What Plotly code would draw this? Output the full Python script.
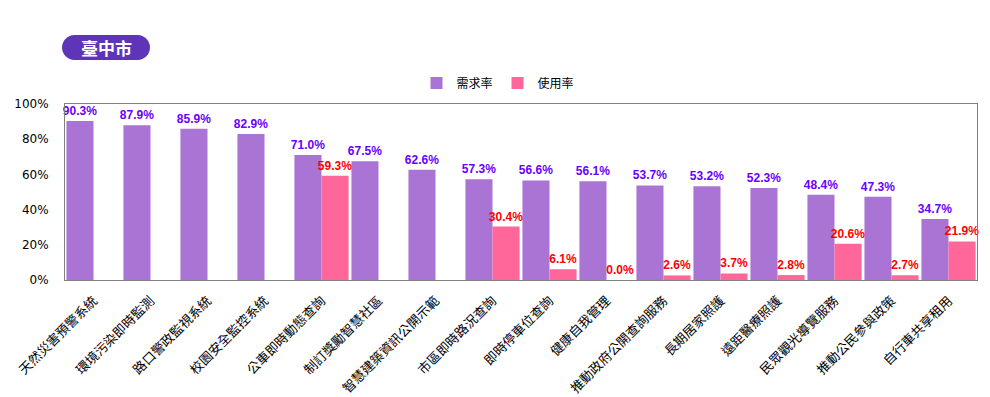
import plotly.graph_objects as go

categories = ["天然災害預警系統", "環境污染即時監測", "路口警政監視系統", "校園安全監控系統",
              "公車即時動態查詢", "制訂獎勵智慧社區", "智慧建築資訊公開示範", "市區即時路況查詢",
              "即時停車位查詢", "健康自我管理", "推動政府公開查詢服務", "長期居家照護",
              "遠距醫療照護", "民眾觀光導覽服務", "推動公民參與政策", "自行車共享租用"]
demand = [90.3, 87.9, 85.9, 82.9, 71.0, 67.5, 62.6, 57.3, 56.6, 56.1, 53.7, 53.2, 52.3, 48.4, 47.3, 34.7]
usage = [None, None, None, None, 59.3, None, None, 30.4, 6.1, 0.0, 2.6, 3.7, 2.8, 20.6, 2.7, 21.9]
y_ticks = [0, 20, 40, 60, 80, 100]
title_text = "臺中市"

OFF = 8  # default page body margin
W, H = 990 - OFF, 397 - OFF
ML, MR, MT, MB = 65 - OFF, 13, 104 - OFF, 117
PW, PH = W - ML - MR, H - MT - MB

def px(x):  # x in page pixels -> paper
    return (x - OFF - ML) / PW

def py(y):  # y in page pixels -> paper
    return (H - MB - (y - OFF)) / PH

font_cjk = "Noto Sans CJK TC, Liberation Sans, sans-serif"

fig = go.Figure()
fig.add_trace(go.Bar(
    x=categories, y=demand, name="需求率",
    marker=dict(color="#A974D4", line=dict(width=0)),
    texttemplate="%{y:.1f}%", textposition="outside", cliponaxis=False,
    constraintext="none",
    textfont=dict(color="#6A00FF", size=12, family="Liberation Sans, Arial", weight="bold"),
))
fig.add_trace(go.Bar(
    x=categories, y=usage, name="使用率",
    marker=dict(color="#FF6699", line=dict(width=0)),
    texttemplate="%{y:.1f}%", textposition="outside", cliponaxis=False,
    constraintext="none",
    textfont=dict(color="#FF0000", size=12, family="Liberation Sans, Arial", weight="bold"),
))

# rounded badge
x0, x1, y0, y1 = 62, 150, 35, 60
r = (y1 - y0) / 2
k = 0.5523 * r
pts = (f"M {px(x0 + r)},{py(y0)} L {px(x1 - r)},{py(y0)} "
       f"C {px(x1 - r + k)},{py(y0)} {px(x1)},{py(y0 + r - k)} {px(x1)},{py(y0 + r)} "
       f"C {px(x1)},{py(y0 + r + k)} {px(x1 - r + k)},{py(y1)} {px(x1 - r)},{py(y1)} "
       f"L {px(x0 + r)},{py(y1)} "
       f"C {px(x0 + r - k)},{py(y1)} {px(x0)},{py(y0 + r + k)} {px(x0)},{py(y0 + r)} "
       f"C {px(x0)},{py(y0 + r - k)} {px(x0 + r - k)},{py(y0)} {px(x0 + r)},{py(y0)} Z")
fig.add_shape(type="path", path=pts, xref="paper", yref="paper",
              fillcolor="#5E35B8", line=dict(width=0), layer="above")
fig.add_annotation(x=px((x0 + x1) / 2), y=py((y0 + y1) / 2), xref="paper", yref="paper",
                   text="<b>" + title_text + "</b>", showarrow=False,
                   font=dict(color="white", size=17, family=font_cjk),
                   xanchor="center", yanchor="middle")

fig.update_layout(
    width=W, height=H,
    margin=dict(l=ML, r=MR, t=MT, b=MB, autoexpand=False),
    paper_bgcolor="white", plot_bgcolor="white",
    barmode="group", bargap=0.05, bargroupgap=0,
    showlegend=True,
    legend=dict(orientation="h", x=px(498), xanchor="center", y=py(83), yanchor="middle",
                font=dict(size=12, family=font_cjk, color="#000"),
                itemwidth=30, traceorder="normal"),
    font=dict(family=font_cjk, color="#000"),
)
fig.update_xaxes(
    tickangle=-45, tickfont=dict(size=13, family=font_cjk, color="#000"),
    showline=True, linecolor="#808080", linewidth=1, mirror=True,
    ticks="", showgrid=False, ticklabelstandoff=7,
)
fig.update_yaxes(
    range=[0, 100], tickvals=y_ticks, ticktext=[f"{v}%" for v in y_ticks],
    tickfont=dict(size=12, family="DejaVu Sans, Verdana, sans-serif", color="#000"),
    showline=True, linecolor="#808080", linewidth=1, mirror=True,
    ticks="", showgrid=False, zeroline=False, ticklabelstandoff=13,
)

fig.write_html("out.html")
